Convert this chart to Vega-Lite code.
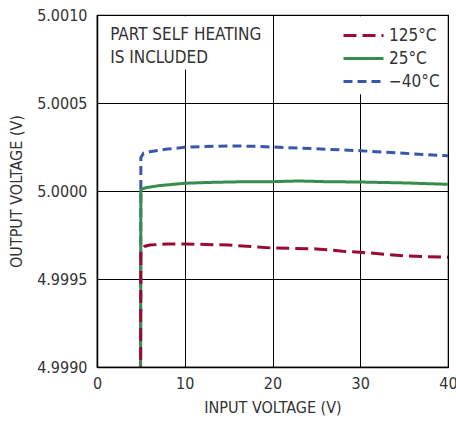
{
  "$schema": "https://vega.github.io/schema/vega-lite/v6.json",
  "width": 351,
  "height": 352,
  "autosize": {"type": "none"},
  "padding": {"left": 97, "top": 15, "right": 8, "bottom": 54},
  "background": "white",
  "config": {
    "view": {"stroke": "#000", "strokeWidth": 1.2},
    "font": "DejaVu Sans Condensed, Roboto",
    "axis": {
      "labelFont": "DejaVu Sans Condensed, Roboto",
      "titleFont": "DejaVu Sans Condensed, Roboto",
      "labelFontSize": 16,
      "titleFontSize": 16,
      "labelColor": "#333",
      "titleColor": "#333",
      "titleFontWeight": "normal",
      "ticks": false,
      "gridColor": "#000",
      "gridOpacity": 1,
      "gridWidth": 1,
      "domainColor": "#000",
      "domainWidth": 1.5
    }
  },
  "datasets": {
    "curves": [
      {"vin": 4.95, "vout": 4.9985, "temp": "−40°C"},
      {"vin": 5.0, "vout": 5.00019, "temp": "−40°C"},
      {"vin": 5.3, "vout": 5.000215, "temp": "−40°C"},
      {"vin": 6, "vout": 5.000223, "temp": "−40°C"},
      {"vin": 8, "vout": 5.000238, "temp": "−40°C"},
      {"vin": 10, "vout": 5.000248, "temp": "−40°C"},
      {"vin": 12, "vout": 5.000252, "temp": "−40°C"},
      {"vin": 15, "vout": 5.000256, "temp": "−40°C"},
      {"vin": 18, "vout": 5.000254, "temp": "−40°C"},
      {"vin": 20, "vout": 5.00025, "temp": "−40°C"},
      {"vin": 25, "vout": 5.00024, "temp": "−40°C"},
      {"vin": 30, "vout": 5.000229, "temp": "−40°C"},
      {"vin": 35, "vout": 5.000214, "temp": "−40°C"},
      {"vin": 40, "vout": 5.0002, "temp": "−40°C"},
      {"vin": 4.95, "vout": 4.9985, "temp": "25°C"},
      {"vin": 5.0, "vout": 5.000008, "temp": "25°C"},
      {"vin": 5.5, "vout": 5.000018, "temp": "25°C"},
      {"vin": 7, "vout": 5.00003, "temp": "25°C"},
      {"vin": 10, "vout": 5.000044, "temp": "25°C"},
      {"vin": 13, "vout": 5.000049, "temp": "25°C"},
      {"vin": 16, "vout": 5.000052, "temp": "25°C"},
      {"vin": 20, "vout": 5.000053, "temp": "25°C"},
      {"vin": 23, "vout": 5.000057, "temp": "25°C"},
      {"vin": 26, "vout": 5.000053, "temp": "25°C"},
      {"vin": 30, "vout": 5.000051, "temp": "25°C"},
      {"vin": 35, "vout": 5.000046, "temp": "25°C"},
      {"vin": 40, "vout": 5.000038, "temp": "25°C"},
      {"vin": 4.95, "vout": 4.9985, "temp": "125°C"},
      {"vin": 5.0, "vout": 4.99966, "temp": "125°C"},
      {"vin": 5.4, "vout": 4.999685, "temp": "125°C"},
      {"vin": 6, "vout": 4.999693, "temp": "125°C"},
      {"vin": 8, "vout": 4.999699, "temp": "125°C"},
      {"vin": 10, "vout": 4.999699, "temp": "125°C"},
      {"vin": 15, "vout": 4.999693, "temp": "125°C"},
      {"vin": 20, "vout": 4.999676, "temp": "125°C"},
      {"vin": 25, "vout": 4.999671, "temp": "125°C"},
      {"vin": 28, "vout": 4.999658, "temp": "125°C"},
      {"vin": 30, "vout": 4.999652, "temp": "125°C"},
      {"vin": 35, "vout": 4.999632, "temp": "125°C"},
      {"vin": 40, "vout": 4.999623, "temp": "125°C"}
    ],
    "masks": [
      {"x1": 1.0, "x2": 19.5, "y1": 5.000993, "y2": 5.00069},
      {"x1": 27.5, "x2": 39.9, "y1": 5.000993, "y2": 5.00055}
    ],
    "note": [
      {"vin": 1.5, "vout": 5.000886, "label": ["PART SELF HEATING", "IS INCLUDED"]}
    ]
  },
  "encoding": {
    "x": {
      "type": "quantitative",
      "scale": {"domain": [0, 40], "nice": false},
      "axis": {"title": "INPUT VOLTAGE (V)", "values": [0, 10, 20, 30, 40], "grid": true, "labelPadding": 8, "titlePadding": 8, "labelFlush": false}
    },
    "y": {
      "type": "quantitative",
      "scale": {"domain": [4.999, 5.001], "nice": false, "zero": false},
      "axis": {"title": "OUTPUT VOLTAGE (V)", "values": [4.999, 4.9995, 5.0, 5.0005, 5.001], "format": ".4f", "grid": true, "labelPadding": 10, "titlePadding": 12, "labelFlush": false}
    }
  },
  "layer": [
    {
      "data": {"name": "masks"},
      "mark": {"type": "rect", "fill": "white", "stroke": null},
      "encoding": {
        "x": {"field": "x1", "type": "quantitative"},
        "x2": {"field": "x2"},
        "y": {"field": "y1", "type": "quantitative"},
        "y2": {"field": "y2"}
      }
    },
    {
      "data": {"name": "curves"},
      "mark": {"type": "line", "strokeWidth": 3, "clip": true},
      "encoding": {
        "x": {"field": "vin", "type": "quantitative"},
        "y": {"field": "vout", "type": "quantitative"},
        "color": {
          "field": "temp", "type": "nominal",
          "scale": {"domain": ["125°C", "25°C", "−40°C"], "range": ["#9a0a32", "#3a8c4c", "#3a56ac"]},
          "legend": {
            "title": null, "orient": "none", "legendX": 258, "legendY": 12,
            "symbolType": "M-4,0H4", "symbolSize": 100, "symbolStrokeWidth": 3,
            "labelFont": "DejaVu Sans Condensed, Roboto", "labelFontSize": 17, "labelColor": "#333",
            "rowPadding": 5, "labelOffset": 17
          }
        },
        "strokeDash": {
          "field": "temp", "type": "nominal",
          "scale": {"domain": ["125°C", "25°C", "−40°C"], "range": [[13, 6], [1, 0], [9, 5]]},
          "legend": {
            "title": null, "orient": "none", "legendX": 258, "legendY": 12,
            "symbolType": "M-4,0H4", "symbolSize": 100, "symbolStrokeWidth": 3,
            "labelFont": "DejaVu Sans Condensed, Roboto", "labelFontSize": 17, "labelColor": "#333",
            "rowPadding": 5, "labelOffset": 17
          }
        },
        "order": {"field": "vin", "type": "quantitative"}
      }
    },
    {
      "data": {"name": "note"},
      "mark": {"type": "text", "align": "left", "baseline": "middle", "fontSize": 17, "lineHeight": 23, "color": "#333", "font": "DejaVu Sans Condensed, Roboto"},
      "encoding": {
        "x": {"field": "vin", "type": "quantitative"},
        "y": {"field": "vout", "type": "quantitative"},
        "text": {"field": "label"}
      }
    }
  ]
}
